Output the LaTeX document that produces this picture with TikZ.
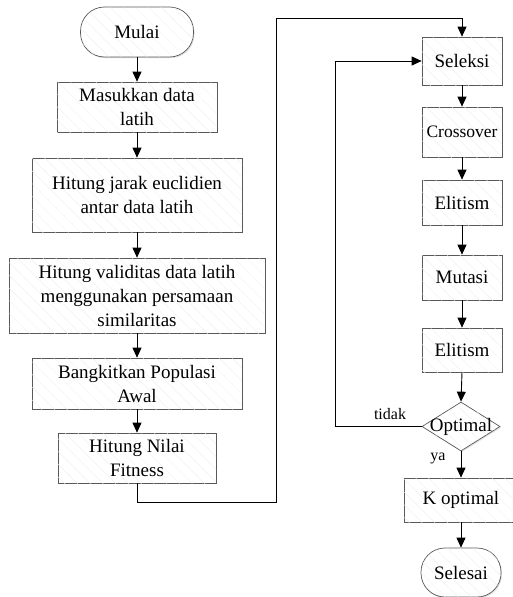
\documentclass[tikz,border=0pt]{standalone}
\usepackage{fontspec}
\setmainfont{Liberation Serif}
\usetikzlibrary{arrows.meta,shapes.geometric,patterns.meta,shadows}
\begin{document}
\begin{tikzpicture}[x=1pt,y=-1pt,
  font=\fontsize{19}{24}\selectfont,
  shape base/.style={draw=black!65, line width=0.7pt, fill=white,
    drop shadow={shadow xshift=1pt, shadow yshift=-1.2pt, opacity=0.25},
    postaction={pattern={Lines[angle=-45,distance=9pt,line width=0.3pt]}, pattern color=black!7},
    align=center, inner sep=1pt},
  box/.style={shape base, rectangle},
  term/.style={shape base, rectangle, rounded corners=24pt},
  decision/.style={shape base, diamond, inner sep=0pt},
  arr/.style={draw=black, line width=0.9pt, -{Triangle[length=10pt,width=9pt]}},
  line/.style={draw=black, line width=0.9pt},
  lbl/.style={font=\fontsize{16}{18}\selectfont, inner sep=0pt}
]
\useasboundingbox (0,0) rectangle (513,597);

% left column
\node[term, minimum width=113pt, minimum height=50pt] (start) at (137,32) {Mulai};
\node[box, minimum width=160pt, minimum height=50pt] (n1) at (137,107) {Masukkan data\\latih};
\node[box, minimum width=210pt, minimum height=74pt] (n2) at (137,195) {Hitung jarak euclidien\\antar data latih};
\node[box, minimum width=256pt, minimum height=75pt] (n3) at (137,295.5) {Hitung validitas data latih\\menggunakan persamaan\\similaritas};
\node[box, minimum width=210pt, minimum height=51pt] (n4) at (137,383.5) {Bangkitkan Populasi\\Awal};
\node[box, minimum width=158pt, minimum height=50pt] (n5) at (137,458) {Hitung Nilai\\Fitness};

% right column
\node[box, minimum width=80pt, minimum height=48pt] (s1) at (462,61) {Seleksi};
\node[box, minimum width=80pt, minimum height=50pt, font=\fontsize{17.5}{20}\selectfont] (s2) at (462,132) {Crossover};
\node[box, minimum width=80pt, minimum height=45pt] (s3) at (462,202.5) {Elitism};
\node[box, minimum width=80pt, minimum height=45pt] (s4) at (462,277.5) {Mutasi};
\node[box, minimum width=80pt, minimum height=44pt] (s5) at (462,350) {Elitism};
\node[decision, minimum width=78pt, minimum height=49pt] (d) at (461,426.5) {};
\node[inner sep=0pt] (dt) at (d.center) {Optimal};
\node[box, minimum width=114pt, minimum height=44pt] (k) at (461,500) {K optimal};
\node[term, minimum width=80pt, minimum height=49pt] (e) at (461,572.5) {Selesai};

% coordinates for bends
\coordinate (c1) at (276,502);
\coordinate (c2) at (276,18);
\coordinate (c3) at (335,426.5);

% connectors
\draw[arr] (start) -- (n1);
\draw[arr] (n1) -- (n2);
\draw[arr] (n2) -- (n3);
\draw[arr] (n3) -- (n4);
\draw[arr] (n4) -- (n5);
\draw[arr] (n5.south) |- (c1) -- (c2) -| (s1.north);
\draw[arr] (s1) -- (s2);
\draw[arr] (s2) -- (s3);
\draw[arr] (s3) -- (s4);
\draw[arr] (s4) -- (s5);
\draw[arr] (s5.south) -- (d.north);
\draw[arr] (d.west) -- (c3) |- (s1.west);
\draw[arr] (d.south) -- (d.south |- k.north);
\draw[arr] (k.south -| e.north) -- (e.north);

% labels
\node[lbl] (ltidak) at (390,414) {tidak};
\node[lbl] (lya) at (438,458) {ya};
\end{tikzpicture}
\end{document}
